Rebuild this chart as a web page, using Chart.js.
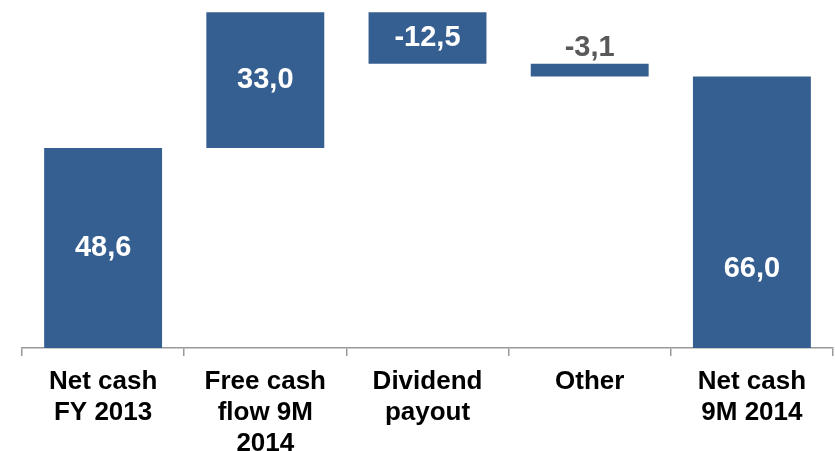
<!DOCTYPE html>
<html>
<head>
<meta charset="utf-8">
<script src="https://cdn.jsdelivr.net/npm/chart.js@4"></script>
<style>
    html, body { margin: 0; padding: 0; background: #fff; }
    #wrap { width: 835px; height: 451px; }
</style>
</head>
<body>
<div id="wrap"><canvas id="chart_canvas"></canvas></div>
<script>
const categories = [
    ['Net cash', 'FY 2013'],
    ['Free cash', 'flow 9M', '2014'],
    ['Dividend', 'payout'],
    ['Other'],
    ['Net cash', '9M 2014'],
];
const changes = [48.6, 33.0, -12.5, -3.1, 66.0];
const isTotal = [true, false, false, false, true];
const valueLabels = ['48,6', '33,0', '-12,5', '-3,1', '66,0'];

const barColor = '#365F91';
const axisColor = '#999999';
const fontFamily = "'Liberation Sans', Arial, sans-serif";

// floating ranges for the waterfall
function getRanges() {
    let ranges = [];
    let running = 0;
    for (let i = 0; i < changes.length; i++) {
        if (isTotal[i]) {
            ranges.push([0, changes[i]]);
            running = changes[i];
        } else {
            ranges.push([running, running + changes[i]]);
            running += changes[i];
        }
    }
    return ranges;
}

const valueLabelPlugin = {
    id: 'valueLabel',
    afterDatasetsDraw(chart) {
        const ctx = chart.ctx;
        const meta = chart.getDatasetMeta(0);
        ctx.save();
        ctx.font = 'bold 29px ' + fontFamily;
        ctx.textAlign = 'center';
        ctx.textBaseline = 'middle';
        meta.data.forEach((bar, i) => {
            const top = Math.min(bar.y, bar.base);
            const bottom = Math.max(bar.y, bar.base);
            const h = bottom - top;
            let y = top + h / 2;
            ctx.fillStyle = '#FFFFFF';
            if (h < 30) {
                // too thin, put it above
                y = top - 16;
                ctx.fillStyle = '#595959';
            } else if (i === meta.data.length - 1) {
                y = bottom - h * 0.29;
            }
            ctx.fillText(valueLabels[i], bar.x, y);
        });
        ctx.restore();
    }
};

const ctx = document.getElementById('chart_canvas');
const chartObj = new Chart(ctx, {
    type: 'bar',
    data: {
        labels: categories,
        datasets: [{
            data: getRanges(),
            backgroundColor: barColor,
            borderWidth: 0,
            borderSkipped: false,
            categoryPercentage: 1.0,
            barPercentage: 0.727,
        }]
    },
    options: {
        responsive: true,
        maintainAspectRatio: false,
        animation: false,
        layout: {padding: {left: 22, right: 2, top: 0, bottom: 0}},
        plugins: {
            legend: {display: false},
            tooltip: {enabled: false},
        },
        scales: {
            x: {
                grid: {
                    offset: true,
                    drawOnChartArea: false,
                    drawTicks: true,
                    tickLength: 8,
                    color: axisColor,
                    lineWidth: 1.5,
                },
                border: {color: axisColor, width: 1.5},
                ticks: {
                    color: '#000000',
                    padding: 10,
                    maxRotation: 0,
                    autoSkip: false,
                    font: {family: fontFamily, size: 26, weight: 'bold', lineHeight: 1.2},
                },
                afterFit(scale) {
                    scale.height = 103;
                }
            },
            y: {
                display: false,
                min: 0,
                max: 84.6,
            }
        }
    },
    plugins: [valueLabelPlugin]
});
</script>
</body>
</html>
